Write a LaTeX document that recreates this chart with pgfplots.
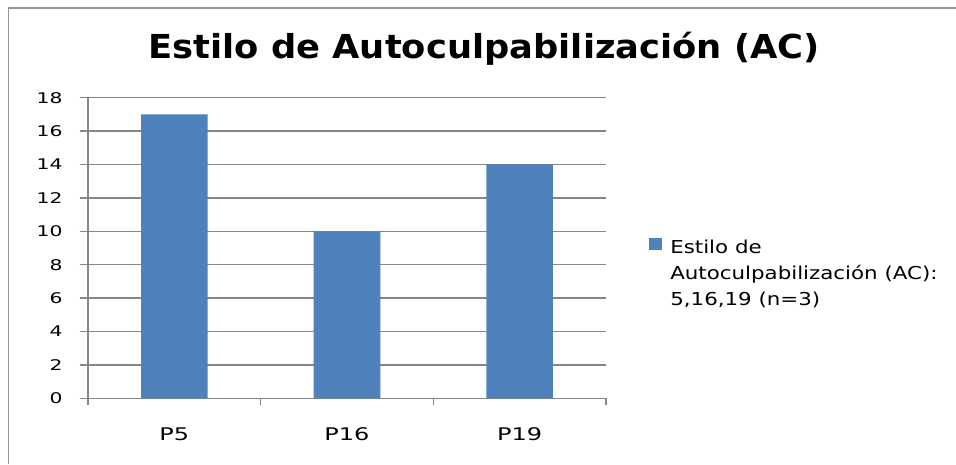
\documentclass[border=0pt]{standalone}
\usepackage{pgfplots}
\pgfplotsset{compat=1.18}
\usepackage{fontspec}
\setmainfont{DejaVu Sans}
\newfontfamily\tickfont[FakeStretch=1.38]{DejaVu Sans}
\newfontfamily\legfont[FakeStretch=1.2]{DejaVu Sans}
\newfontfamily\titlefont[FakeStretch=1.07]{DejaVu Sans Bold}
\definecolor{barblue}{RGB}{79,129,189}
\definecolor{gridgray}{RGB}{134,134,134}
\definecolor{framegray}{RGB}{150,150,150}
\begin{document}
\begin{tikzpicture}[x=1pt,y=1pt]
\useasboundingbox (0,0) rectangle (956,464);
\fill[white] (0,0) rectangle (956,464);
\draw[framegray, line width=1.6pt] (8.3,0) -- (8.3,455.7) -- (956,455.7);
\begin{axis}[
  at={(88pt,65.7pt)}, anchor=south west,
  scale only axis, width=518pt, height=300.6pt,
  ymin=0, ymax=18, ytick={0,2,...,18},
  xmin=-0.5, xmax=2.5, xtick={0,1,2}, xticklabels={P5,P16,P19},
  minor xtick={-0.5,0.5,1.5,2.5},
  axis lines*=left,
  axis line style={gridgray, line width=1.3pt},
  ymajorgrids, grid style={gridgray, line width=1.3pt},
  tick align=outside,
  major tick length=8pt, minor tick length=7pt,
  major x tick style={draw=none},
  minor x tick style={gridgray, line width=1.3pt},
  ytick style={gridgray, line width=1.3pt},
  /pgf/number format/assume math mode=true,
  ybar, bar width=66.6pt,
  yticklabel style={font=\tickfont\fontsize{14.7}{16}\selectfont, text=black, xshift=-14pt},
  xticklabel style={font=\tickfont\fontsize{17.4}{20}\selectfont, text=black, yshift=-18pt},
  title={Estilo de Autoculpabilización (AC)},
  title style={at={(0.7645,1.112)}, anchor=base, font=\titlefont\fontsize{33}{40}\selectfont},
  legend style={at={(1.0774,0.54)}, anchor=north west, draw=none, fill=none,
    font=\legfont\fontsize{17.8}{25.7}\selectfont,
    cells={anchor=west, align=left}},
  legend image code/.code={\fill[barblue] (0pt,23pt) rectangle (13pt,35pt); \path (19pt,23pt);},
]
\addplot[fill=barblue, draw=none] coordinates {(0,17) (1,10) (2,14)};
\addlegendentry{Estilo de\\Autoculpabilización (AC):\\5,16,19 (n=3)}
\end{axis}
\end{tikzpicture}
\end{document}
